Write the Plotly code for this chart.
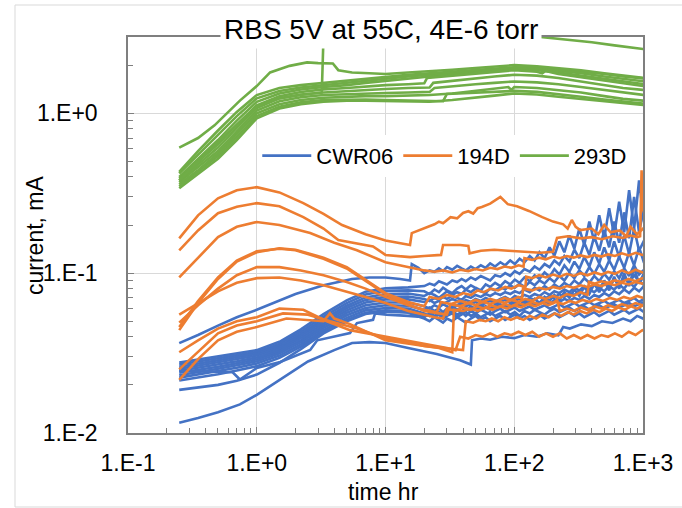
import plotly.graph_objects as go

# ---------------- data (time hr, current mA) ----------------
T_BLUE_EARLY = [0.25, 0.35, 0.5, 0.7, 1.0, 1.5, 2.2, 3.3, 5, 7, 10, 15]
T_TAIL = [20, 22, 24, 26, 28, 30, 33, 36, 39, 42, 46, 50, 55, 60, 65, 71, 78, 85, 93, 101, 110, 120, 132,
          144, 157, 172, 188, 205, 224, 245, 268, 293, 320, 350, 383, 418, 457, 500, 546, 597, 653, 714,
          780, 853, 932, 1019, 1100]

CWR06_1 = [0.0276, 0.0288, 0.0300, 0.0314, 0.0330, 0.0372, 0.0445, 0.0555, 0.0675, 0.0765, 0.0805, 0.0815,
           0.083, 0.086, 0.084, 0.089, 0.087, 0.085, 0.090, 0.088, 0.092, 0.089, 0.094, 0.091, 0.096, 0.093,
           0.090, 0.097, 0.095, 0.100, 0.096, 0.103, 0.099, 0.106, 0.102, 0.110, 0.105, 0.114, 0.109, 0.120,
           0.113, 0.128, 0.118, 0.140, 0.124, 0.155, 0.130, 0.170, 0.138, 0.185, 0.145, 0.210, 0.155, 0.240,
           0.165, 0.300, 0.180, 0.260, 0.200]
CWR06_2 = [0.0268, 0.0280, 0.0292, 0.0305, 0.0321, 0.0361, 0.0430, 0.0535, 0.0650, 0.0735, 0.0775, 0.0780,
           0.077, 0.074, 0.079, 0.076, 0.081, 0.078, 0.075, 0.080, 0.083, 0.079, 0.084, 0.081, 0.078, 0.085,
           0.082, 0.087, 0.083, 0.089, 0.085, 0.091, 0.087, 0.094, 0.089, 0.097, 0.092, 0.101, 0.095, 0.106,
           0.098, 0.112, 0.102, 0.118, 0.106, 0.126, 0.110, 0.135, 0.115, 0.145, 0.120, 0.158, 0.126, 0.172,
           0.132, 0.190, 0.138, 0.160, 0.145]
CWR06_3 = [0.0260, 0.0272, 0.0284, 0.0297, 0.0313, 0.0351, 0.0417, 0.0515, 0.0625, 0.0705, 0.0740, 0.0745,
           0.072, 0.075, 0.073, 0.070, 0.074, 0.077, 0.073, 0.076, 0.074, 0.079, 0.076, 0.080, 0.077, 0.075,
           0.080, 0.078, 0.082, 0.079, 0.084, 0.081, 0.086, 0.082, 0.088, 0.084, 0.090, 0.086, 0.093, 0.088,
           0.096, 0.090, 0.100, 0.093, 0.104, 0.096, 0.109, 0.099, 0.114, 0.102, 0.120, 0.105, 0.127, 0.108,
           0.135, 0.112, 0.145, 0.116, 0.125]
CWR06_4 = [0.0252, 0.0264, 0.0276, 0.0289, 0.0305, 0.0342, 0.0405, 0.0500, 0.0605, 0.0680, 0.0710, 0.0715,
           0.069, 0.067, 0.070, 0.068, 0.071, 0.069, 0.072, 0.070, 0.068, 0.072, 0.070, 0.073, 0.071, 0.074,
           0.072, 0.075, 0.073, 0.076, 0.074, 0.077, 0.075, 0.079, 0.076, 0.081, 0.078, 0.083, 0.079, 0.085,
           0.081, 0.087, 0.083, 0.090, 0.085, 0.093, 0.087, 0.096, 0.089, 0.099, 0.091, 0.103, 0.093, 0.107,
           0.096, 0.112, 0.098, 0.105, 0.100]
CWR06_5 = [0.0245, 0.0256, 0.0268, 0.0281, 0.0297, 0.0333, 0.0393, 0.0485, 0.0585, 0.0655, 0.0685, 0.0685,
           0.066, 0.068, 0.065, 0.067, 0.064, 0.066, 0.069, 0.067, 0.065, 0.068, 0.066, 0.069, 0.067, 0.070,
           0.068, 0.066, 0.069, 0.071, 0.068, 0.072, 0.070, 0.073, 0.071, 0.074, 0.072, 0.076, 0.073, 0.077,
           0.075, 0.079, 0.076, 0.081, 0.078, 0.083, 0.079, 0.085, 0.081, 0.088, 0.083, 0.091, 0.085, 0.094,
           0.087, 0.097, 0.089, 0.093, 0.091]
CWR06_6 = [0.0238, 0.0248, 0.0260, 0.0273, 0.0289, 0.0324, 0.0381, 0.0470, 0.0565, 0.0630, 0.0655, 0.0655,
           0.062, 0.060, 0.063, 0.061, 0.064, 0.062, 0.060, 0.063, 0.065, 0.062, 0.064, 0.066, 0.063, 0.065,
           0.067, 0.064, 0.066, 0.068, 0.065, 0.067, 0.069, 0.066, 0.070, 0.068, 0.071, 0.069, 0.072, 0.070,
           0.074, 0.071, 0.075, 0.073, 0.077, 0.074, 0.079, 0.076, 0.081, 0.077, 0.083, 0.079, 0.085, 0.080,
           0.088, 0.082, 0.090, 0.084, 0.086]
CWR06_7 = [0.0230, 0.0240, 0.0252, 0.0265, 0.0281, 0.0315, 0.0370, 0.0455, 0.0545, 0.0605, 0.0630, 0.0625,
           0.059, 0.061, 0.058, 0.060, 0.057, 0.060, 0.062, 0.059, 0.061, 0.058, 0.062, 0.060, 0.063, 0.061,
           0.059, 0.062, 0.064, 0.061, 0.063, 0.065, 0.062, 0.064, 0.066, 0.063, 0.065, 0.067, 0.064, 0.068,
           0.066, 0.069, 0.067, 0.070, 0.068, 0.072, 0.069, 0.073, 0.071, 0.075, 0.072, 0.077, 0.074, 0.079,
           0.075, 0.081, 0.077, 0.083, 0.079]
CWR06_8 = [0.0222, 0.0232, 0.0243, 0.0256, 0.0272, 0.0305, 0.0358, 0.0440, 0.0525, 0.0585, 0.0605, 0.0600,
           0.056, 0.054, 0.057, 0.055, 0.053, 0.056, 0.058, 0.055, 0.057, 0.054, 0.058, 0.056, 0.059, 0.057,
           0.055, 0.058, 0.060, 0.057, 0.059, 0.061, 0.058, 0.060, 0.062, 0.059, 0.061, 0.063, 0.060, 0.062,
           0.064, 0.061, 0.063, 0.065, 0.062, 0.064, 0.066, 0.063, 0.065, 0.067, 0.064, 0.066, 0.068, 0.065,
           0.067, 0.070, 0.066, 0.069, 0.068]
CWR06_9 = [0.0213, 0.0222, 0.0233, 0.0246, 0.0262, 0.0295, 0.0347, 0.0427, 0.0510, 0.0565, 0.0585, 0.0575,
           0.054, 0.055, 0.053, 0.055, 0.052, 0.054, 0.056, 0.053, 0.055, 0.057, 0.054, 0.056, 0.053, 0.055,
           0.057, 0.054, 0.056, 0.058, 0.055, 0.057, 0.054, 0.058, 0.056, 0.059, 0.057, 0.055, 0.058, 0.060,
           0.057, 0.059, 0.061, 0.058, 0.060, 0.062, 0.059, 0.061, 0.063, 0.060, 0.062, 0.064, 0.061, 0.063,
           0.065, 0.062, 0.064, 0.066, 0.064]
CWR06_10 = [0.0186, 0.0192, 0.0200, 0.0212, 0.0232, 0.0275, 0.0335, 0.0420, 0.0500, 0.0555, 0.0575, 0.0565,
            0.052, 0.050, 0.053, 0.051, 0.049, 0.052, 0.050, 0.053, 0.051, 0.049, 0.052, 0.054, 0.051, 0.053,
            0.050, 0.052, 0.054, 0.051, 0.053, 0.055, 0.052, 0.054, 0.051, 0.053, 0.055, 0.052, 0.054, 0.056,
            0.053, 0.055, 0.057, 0.054, 0.056, 0.053, 0.055, 0.057, 0.054, 0.056, 0.058, 0.055, 0.057, 0.059,
            0.056, 0.058, 0.060, 0.057, 0.059]

CWR06_TOP_EARLY = [(0.25, 0.0365), (0.35, 0.041), (0.5, 0.047), (0.7, 0.053), (1.0, 0.059), (1.5, 0.067),
                   (2.0, 0.074), (3.3, 0.084), (5.5, 0.092), (7.5, 0.094), (10, 0.094), (13, 0.092),
                   (15.5, 0.090), (16, 0.114), (18, 0.108)]
CWR06_TOP_TAIL = [0.100, 0.104, 0.102, 0.107, 0.103, 0.109, 0.105, 0.111, 0.107, 0.104, 0.110, 0.106, 0.112,
                  0.108, 0.115, 0.110, 0.117, 0.112, 0.120, 0.114, 0.123, 0.117, 0.128, 0.120, 0.135, 0.124,
                  0.145, 0.129, 0.158, 0.135, 0.172, 0.142, 0.190, 0.150, 0.210, 0.158, 0.230, 0.165, 0.255,
                  0.172, 0.280, 0.180, 0.330, 0.190, 0.380, 0.210, 0.300]
CWR06_KINK_EARLY = [(0.25, 0.0245), (0.35, 0.0243), (0.5, 0.0242), (0.65, 0.0240), (0.74, 0.0216), (1.0, 0.0255),
                    (1.52, 0.0278), (2.6, 0.0331), (2.95, 0.038), (5.3, 0.0422), (6.0, 0.0487), (8.0, 0.051),
                    (8.3, 0.056), (10.2, 0.055), (15, 0.054)]
CWR06_KINK_TAIL = [0.053, 0.056, 0.054, 0.057, 0.055, 0.058, 0.056, 0.059, 0.057, 0.060, 0.058, 0.061, 0.059,
                   0.062, 0.060, 0.063, 0.061, 0.064, 0.062, 0.066, 0.063, 0.067, 0.064, 0.069, 0.065, 0.071,
                   0.067, 0.073, 0.068, 0.076, 0.070, 0.079, 0.072, 0.082, 0.074, 0.086, 0.076, 0.090, 0.078,
                   0.095, 0.080, 0.100, 0.083, 0.108, 0.086, 0.100, 0.090]
CWR06_LOW = [(0.25, 0.0116), (0.35, 0.0124), (0.5, 0.0135), (0.74, 0.0151), (1.0, 0.0173), (1.5, 0.0215),
             (2.5, 0.0280), (4.0, 0.0330), (5.5, 0.0366), (7.5, 0.0370), (10, 0.0366), (15, 0.0340), (20, 0.0325),
             (25, 0.0312), (30, 0.0300), (38, 0.0285), (46, 0.0268), (47, 0.0380), (55, 0.0390), (65, 0.0383),
             (80, 0.0400), (100, 0.0392), (120, 0.0410), (150, 0.0400), (180, 0.0420), (220, 0.0408), (240, 0.0460),
             (270, 0.0450), (330, 0.0478), (400, 0.0466), (480, 0.0500), (580, 0.0488), (700, 0.0520), (800, 0.0500),
             (900, 0.0540), (1000, 0.0520), (1100, 0.0530)]

D194_1 = [(0.25, 0.165), (0.35, 0.23), (0.5, 0.294), (0.7, 0.33), (1.0, 0.345), (1.5, 0.32), (2.3, 0.274),
          (3.3, 0.235), (4.6, 0.20), (7, 0.175), (10, 0.16), (15.5, 0.15), (16, 0.178), (20, 0.19), (24, 0.202),
          (26, 0.21), (28, 0.205), (32, 0.224), (36, 0.22), (40, 0.238), (44, 0.244), (48, 0.236), (52, 0.255),
          (56, 0.259), (65, 0.272), (78, 0.30), (89, 0.27), (105, 0.262), (130, 0.245), (165, 0.224), (200, 0.21),
          (240, 0.202), (260, 0.19), (280, 0.215), (300, 0.195), (325, 0.186), (400, 0.19), (450, 0.175),
          (500, 0.20), (560, 0.18), (660, 0.185), (740, 0.17), (800, 0.195), (900, 0.175), (1000, 0.19), (1100, 0.18)]
D194_2 = [(0.25, 0.139), (0.35, 0.185), (0.5, 0.237), (0.7, 0.26), (1.0, 0.274), (1.5, 0.262), (2.3, 0.224),
          (3.3, 0.19), (4.3, 0.161), (6.7, 0.15), (8, 0.147), (10, 0.13), (15.5, 0.126), (20, 0.128), (27, 0.13),
          (28, 0.15), (38, 0.15), (44, 0.148), (45, 0.133), (55, 0.138), (70, 0.14), (90, 0.138), (120, 0.136),
          (160, 0.134), (200, 0.136), (215, 0.166), (260, 0.17), (330, 0.165), (400, 0.168), (480, 0.163),
          (580, 0.17), (700, 0.166), (800, 0.172), (900, 0.168), (950, 0.17), (975, 0.44), (1000, 0.25), (1100, 0.2)]
D194_3 = [(0.25, 0.094), (0.35, 0.125), (0.5, 0.168), (0.7, 0.195), (1.0, 0.209), (1.5, 0.20), (2.6, 0.178),
          (4, 0.155), (6, 0.139), (10, 0.117), (15, 0.109), (20, 0.104), (24, 0.102), (28, 0.104), (33, 0.101),
          (38, 0.105), (44, 0.103), (50, 0.106), (57, 0.104), (65, 0.108), (74, 0.106), (84, 0.110), (95, 0.108),
          (108, 0.112), (118, 0.110), (120, 0.124), (138, 0.121), (156, 0.125), (176, 0.122), (200, 0.127),
          (226, 0.124), (256, 0.128), (290, 0.125), (328, 0.129), (370, 0.126), (420, 0.130), (475, 0.127),
          (535, 0.131), (605, 0.128), (685, 0.133), (775, 0.129), (875, 0.134), (990, 0.130), (1100, 0.132)]
D194_4 = [(0.25, 0.044), (0.35, 0.065), (0.5, 0.092), (0.7, 0.118), (1.0, 0.135), (1.5, 0.143), (2.0, 0.14),
          (3.3, 0.125), (5, 0.109), (7, 0.091), (10, 0.075), (15, 0.066), (20, 0.062), (22, 0.071), (26, 0.069),
          (30, 0.073), (35, 0.071), (40, 0.075), (46, 0.073), (52, 0.078), (58, 0.076), (66, 0.080), (75, 0.078),
          (85, 0.082), (95, 0.080), (108, 0.084), (122, 0.082), (124, 0.095), (138, 0.093), (156, 0.097),
          (176, 0.094), (200, 0.098), (226, 0.095), (256, 0.099), (290, 0.096), (328, 0.100), (370, 0.097),
          (420, 0.101), (475, 0.098), (535, 0.102), (605, 0.099), (685, 0.104), (775, 0.100), (875, 0.105),
          (990, 0.101), (1100, 0.103)]
D194_5 = [(0.25, 0.046), (0.35, 0.067), (0.5, 0.094), (0.7, 0.12), (1.0, 0.137), (1.5, 0.142), (2.0, 0.139),
          (3.3, 0.123), (5, 0.107), (7, 0.09), (10, 0.074), (15, 0.064), (20, 0.058), (26, 0.056), (30, 0.055),
          (32, 0.064), (38, 0.062), (44, 0.065), (50, 0.063), (57, 0.066), (65, 0.064), (74, 0.067), (84, 0.065),
          (95, 0.068), (108, 0.066), (122, 0.069), (138, 0.067), (156, 0.071), (176, 0.069), (200, 0.072),
          (226, 0.070), (256, 0.074), (290, 0.072), (328, 0.076), (370, 0.073), (380, 0.088), (420, 0.086),
          (475, 0.089), (535, 0.087), (605, 0.090), (685, 0.088), (775, 0.092), (875, 0.089), (990, 0.093),
          (1100, 0.091)]
D194_6 = [(0.25, 0.049), (0.35, 0.063), (0.5, 0.08), (0.7, 0.097), (1.0, 0.109), (1.5, 0.109), (2.2, 0.104),
          (3.3, 0.097), (5, 0.088), (7, 0.08), (10, 0.071), (15, 0.063), (20, 0.059), (25, 0.057), (27, 0.066),
          (32, 0.064), (38, 0.067), (44, 0.065), (50, 0.068), (57, 0.066), (65, 0.069), (74, 0.067), (84, 0.070),
          (95, 0.068), (108, 0.071), (115, 0.069), (117, 0.080), (138, 0.078), (156, 0.081), (176, 0.079),
          (200, 0.082), (226, 0.080), (256, 0.083), (290, 0.081), (328, 0.084), (370, 0.082), (420, 0.085),
          (475, 0.083), (535, 0.086), (605, 0.084), (685, 0.087), (775, 0.085), (875, 0.088), (990, 0.086),
          (1100, 0.087)]
D194_7 = [(0.25, 0.055), (0.35, 0.065), (0.5, 0.077), (0.7, 0.087), (1.0, 0.093), (1.5, 0.094), (2.2, 0.09),
          (3.3, 0.084), (5, 0.077), (7, 0.071), (10, 0.065), (15, 0.058), (20, 0.055), (24, 0.053), (28, 0.052),
          (30, 0.060), (35, 0.058), (40, 0.061), (46, 0.059), (52, 0.062), (58, 0.060), (66, 0.063), (75, 0.061),
          (85, 0.064), (95, 0.062), (108, 0.065), (122, 0.063), (138, 0.066), (156, 0.064), (176, 0.067),
          (200, 0.065), (215, 0.068), (226, 0.058), (256, 0.060), (290, 0.058), (328, 0.061), (370, 0.059),
          (420, 0.062), (475, 0.060), (535, 0.063), (605, 0.061), (685, 0.064), (775, 0.062), (875, 0.065),
          (990, 0.063), (1100, 0.064)]
D194_8 = [(0.25, 0.032), (0.35, 0.038), (0.5, 0.045), (0.7, 0.050), (1.0, 0.053), (1.5, 0.060), (2.3, 0.059),
          (3.5, 0.050), (5.3, 0.044), (10, 0.040), (15, 0.038), (20, 0.036), (25, 0.035), (30, 0.034), (35, 0.033),
          (38, 0.040), (44, 0.039), (50, 0.041), (57, 0.040), (65, 0.042), (74, 0.040), (84, 0.042), (95, 0.041),
          (108, 0.043), (122, 0.041), (138, 0.043), (156, 0.040), (176, 0.042), (200, 0.040), (226, 0.042),
          (256, 0.039), (290, 0.041), (328, 0.039), (370, 0.041), (420, 0.039), (475, 0.041), (535, 0.040),
          (605, 0.042), (685, 0.040), (775, 0.043), (875, 0.041), (990, 0.044), (1100, 0.043)]
D194_9 = [(0.25, 0.025), (0.35, 0.032), (0.5, 0.042), (0.7, 0.047), (1.0, 0.050), (1.6, 0.056), (2.5, 0.055),
          (3.7, 0.050), (6, 0.045), (10, 0.039), (15, 0.037), (20, 0.035), (28, 0.034), (36, 0.033), (40, 0.033),
          (42, 0.050), (48, 0.049), (54, 0.051), (60, 0.050), (67, 0.052), (75, 0.050), (84, 0.053), (94, 0.051),
          (105, 0.053), (118, 0.051), (132, 0.054), (148, 0.052), (165, 0.055), (185, 0.053), (207, 0.056),
          (232, 0.054), (260, 0.057), (290, 0.055), (325, 0.058), (365, 0.056), (410, 0.059), (460, 0.057),
          (515, 0.060), (575, 0.058), (645, 0.061), (720, 0.059), (805, 0.062), (900, 0.060), (1000, 0.063),
          (1100, 0.062)]
D194_10 = [(0.25, 0.0215), (0.35, 0.029), (0.5, 0.038), (0.7, 0.043), (1.0, 0.046), (1.7, 0.052), (3.3, 0.050),
           (3.7, 0.056), (4, 0.052), (5.3, 0.048), (10, 0.038), (15, 0.036), (20, 0.035), (26, 0.034), (33, 0.032),
           (34, 0.059), (40, 0.058), (46, 0.060), (52, 0.058), (60, 0.061), (68, 0.059), (77, 0.062), (88, 0.060),
           (100, 0.063), (113, 0.061), (128, 0.064), (145, 0.062), (165, 0.065), (185, 0.063), (210, 0.066),
           (240, 0.064), (270, 0.067), (300, 0.065), (340, 0.068), (385, 0.066), (435, 0.069), (490, 0.067),
           (555, 0.070), (630, 0.068), (710, 0.071), (800, 0.069), (900, 0.072), (1000, 0.070), (1100, 0.071)]

T_GREEN = [0.25, 0.35, 0.5, 0.7, 1.0, 1.5, 2.2, 3.3, 5, 7, 10, 15, 22, 33, 50, 70, 100, 150, 220, 330,
           500, 700, 1000, 1100]
D293_1 = [0.43, 0.58, 0.78, 1.02, 1.30, 1.44, 1.50, 1.55, 1.60, 1.64, 1.70, 1.74, 1.78, 1.82, 1.86, 1.90,
          1.94, 1.93, 1.88, 1.82, 1.76, 1.70, 1.65, 1.64]
D293_2 = [0.42, 0.55, 0.73, 0.96, 1.24, 1.38, 1.45, 1.50, 1.55, 1.60, 1.65, 1.70, 1.74, 1.79, 1.84, 1.88,
          1.92, 1.90, 1.85, 1.78, 1.70, 1.64, 1.58, 1.57]
D293_3 = [0.40, 0.52, 0.68, 0.90, 1.18, 1.33, 1.41, 1.46, 1.50, 1.55, 1.60, 1.66, 1.70, 1.76, 1.82, 1.86,
          1.90, 1.86, 1.80, 1.72, 1.64, 1.57, 1.52, 1.51]
D293_4 = [(0.25, 0.39), (0.35, 0.50), (0.5, 0.64), (0.7, 0.85), (1.0, 1.12), (1.5, 1.28), (2.2, 1.36),
          (3.3, 1.41), (5, 1.44), (7, 1.47), (10, 1.50), (15, 1.52), (20, 1.54), (21, 1.66), (33, 1.72),
          (50, 1.78), (70, 1.82), (100, 1.86), (150, 1.82), (165, 1.78), (175, 1.84), (220, 1.76), (330, 1.68),
          (500, 1.60), (700, 1.53), (1000, 1.48), (1100, 1.47)]
D293_5 = [(0.25, 0.38), (0.35, 0.48), (0.5, 0.61), (0.7, 0.81), (1.0, 1.08), (1.5, 1.24), (2.2, 1.31),
          (3.3, 1.35), (5, 1.38), (7, 1.40), (10, 1.42), (15, 1.44), (22, 1.45), (23.5, 1.55), (33, 1.60),
          (50, 1.66), (70, 1.70), (100, 1.74), (150, 1.72), (220, 1.66), (330, 1.58), (500, 1.50), (700, 1.44),
          (1000, 1.40), (1100, 1.39)]
D293_6 = [(0.25, 0.37), (0.35, 0.46), (0.5, 0.58), (0.7, 0.77), (1.0, 1.04), (1.5, 1.19), (2.2, 1.26),
          (3.3, 1.30), (5, 1.32), (7, 1.33), (10, 1.34), (15, 1.35), (22, 1.36), (24, 1.44), (33, 1.48),
          (50, 1.52), (70, 1.55), (100, 1.58), (150, 1.56), (220, 1.52), (330, 1.46), (500, 1.40), (700, 1.35),
          (1000, 1.30), (1100, 1.29)]
D293_7 = [(0.25, 0.36), (0.35, 0.44), (0.5, 0.56), (0.7, 0.74), (1.0, 1.00), (1.5, 1.14), (2.2, 1.21),
          (3.3, 1.25), (5, 1.27), (7, 1.28), (10, 1.28), (15, 1.29), (22, 1.30), (33, 1.33), (50, 1.38),
          (70, 1.42), (90, 1.46), (95, 1.40), (100, 1.46), (150, 1.44), (220, 1.40), (330, 1.35), (500, 1.28),
          (700, 1.23), (1000, 1.20), (1100, 1.19)]
D293_8 = [(0.25, 0.35), (0.35, 0.43), (0.5, 0.54), (0.7, 0.71), (1.0, 0.96), (1.5, 1.10), (2.2, 1.17),
          (3.3, 1.21), (5, 1.22), (7, 1.22), (10, 1.21), (15, 1.20), (22, 1.20), (28, 1.19), (30, 1.32),
          (50, 1.35), (70, 1.37), (100, 1.38), (150, 1.36), (220, 1.32), (330, 1.27), (500, 1.22), (700, 1.18),
          (1000, 1.15), (1100, 1.14)]
D293_9 = [0.34, 0.42, 0.52, 0.68, 0.93, 1.07, 1.14, 1.18, 1.20, 1.20, 1.19, 1.18, 1.18, 1.21, 1.26, 1.29,
          1.33, 1.31, 1.27, 1.23, 1.19, 1.16, 1.13, 1.12]
D293_TOP = [(0.25, 0.61), (0.35, 0.70), (0.47, 0.84), (0.74, 1.20), (1.0, 1.48), (1.27, 1.80), (1.8, 1.98),
            (2.46, 2.08), (3.0, 2.06), (3.9, 2.05), (4.3, 1.86), (5.5, 1.80), (7.5, 1.78), (10, 1.76), (15, 1.80),
            (22, 1.83), (33, 1.87), (50, 1.92), (70, 1.96), (100, 2.00), (150, 1.97), (220, 1.92), (330, 1.86),
            (500, 1.78), (700, 1.72), (1000, 1.66), (1100, 1.65)]
D293_SPIKE = [(0.25, 0.38), (0.5, 0.66), (1.0, 1.10), (1.5, 1.24), (2.2, 1.30), (3.2, 1.35), (3.35, 4.5),
              (10, 4.2), (30, 3.8), (55, 3.2), (63, 2.72), (72, 2.72), (80, 3.1), (100, 3.4), (160, 3.0),
              (250, 2.9), (400, 2.78), (600, 2.66), (800, 2.58), (1000, 2.52), (1100, 2.5)]

X_TICKS = [0.1, 1, 10, 100, 1000]
X_TICK_TEXT = ["1.E-1", "1.E+0", "1.E+1", "1.E+2", "1.E+3"]
Y_TICKS = [0.01, 0.1, 1]
Y_TICK_TEXT = ["1.E-2", "1.E-1", "1.E+0"]

BLUE, ORANGE, GREEN = "#4472C4", "#ED7D31", "#70AD47"
FONT = "Liberation Sans, Arial, sans-serif"


def pairs_xy(curve):
    return [p[0] for p in curve], [p[1] for p in curve]


blue_curves = []
for vals in [CWR06_1, CWR06_2, CWR06_3, CWR06_4, CWR06_5, CWR06_6, CWR06_7, CWR06_8, CWR06_9, CWR06_10]:
    blue_curves.append((T_BLUE_EARLY + T_TAIL, vals))
for early, tail in [(CWR06_TOP_EARLY, CWR06_TOP_TAIL), (CWR06_KINK_EARLY, CWR06_KINK_TAIL)]:
    ex, ey = pairs_xy(early)
    blue_curves.append((ex + T_TAIL, ey + tail))
blue_curves.append(pairs_xy(CWR06_LOW))

orange_curves = [pairs_xy(c) for c in [D194_10, D194_9, D194_8, D194_7, D194_6, D194_5, D194_4,
                                        D194_3, D194_2, D194_1]]

green_curves = [(T_GREEN, c) for c in [D293_9, D293_3, D293_2, D293_1]]
green_curves += [pairs_xy(c) for c in [D293_8, D293_7, D293_6, D293_5, D293_4, D293_TOP, D293_SPIKE]]

series = [("CWR06", BLUE, blue_curves), ("194D", ORANGE, orange_curves), ("293D", GREEN, green_curves)]

fig = go.Figure()
for name, color, curves in series:
    for i, (x, y) in enumerate(curves):
        fig.add_trace(go.Scatter(
            x=list(x), y=list(y), mode="lines", name=name, legendgroup=name,
            showlegend=(i == 0), line=dict(color=color, width=2.6),
            hoverinfo="skip"))

axis_common = dict(
    type="log", showgrid=True, gridcolor="#d9d9d9", gridwidth=1,
    showline=True, linecolor="#7f7f7f", linewidth=1.5, mirror=True,
    ticks="inside", ticklen=6, tickcolor="#7f7f7f", tickwidth=1,
    minor=dict(ticks="inside", ticklen=5, tickcolor="#7f7f7f", tickwidth=1, dtick="D1", showgrid=False),
    tickfont=dict(family=FONT, size=23, color="#000000"),
    zeroline=False,
)

fig.update_layout(
    width=682, height=508,
    margin=dict(l=128, r=39, t=37, b=75, autoexpand=False),
    paper_bgcolor="white", plot_bgcolor="white",
    font=dict(family=FONT, color="#000000"),
    xaxis=dict(range=[-1, 3], tickvals=X_TICKS, ticktext=X_TICK_TEXT, ticklabelstandoff=9, **axis_common),
    yaxis=dict(range=[-2, 0.4771], tickvals=Y_TICKS, ticktext=Y_TICK_TEXT, ticklabelstandoff=24, **axis_common),
    legend=dict(orientation="h", x=0.251, xanchor="left", y=0.70, yanchor="middle",
                bgcolor="white", font=dict(family=FONT, size=22, color="#000000"),
                itemwidth=49, tracegroupgap=0),
    showlegend=True,
    annotations=[
        dict(text="RBS 5V at 55C, 4E-6 torr", xref="paper", yref="paper",
             x=0.492, y=1.018, xanchor="center", yanchor="middle", showarrow=False,
             bgcolor="white", borderpad=3, font=dict(family=FONT, size=28, color="#000000")),
        dict(text="time hr", xref="paper", yref="paper", x=0.497, y=-0.149,
             xanchor="center", yanchor="middle", showarrow=False,
             font=dict(family=FONT, size=23, color="#000000")),
        dict(text="current, mA", xref="paper", yref="paper", x=-0.1806, y=0.5, textangle=-90,
             xanchor="center", yanchor="middle", showarrow=False,
             font=dict(family=FONT, size=23, color="#000000")),
    ],
    shapes=[dict(type="rect", xref="paper", yref="paper", x0=-0.2194, x1=1.2, y0=-0.1869, y1=1.0808,
                 line=dict(color="#d9d9d9", width=1), fillcolor="rgba(0,0,0,0)", layer="below")],
)

fig.write_html("out.html", config={"displayModeBar": False},
               post_script="document.body.style.margin='0px';")
